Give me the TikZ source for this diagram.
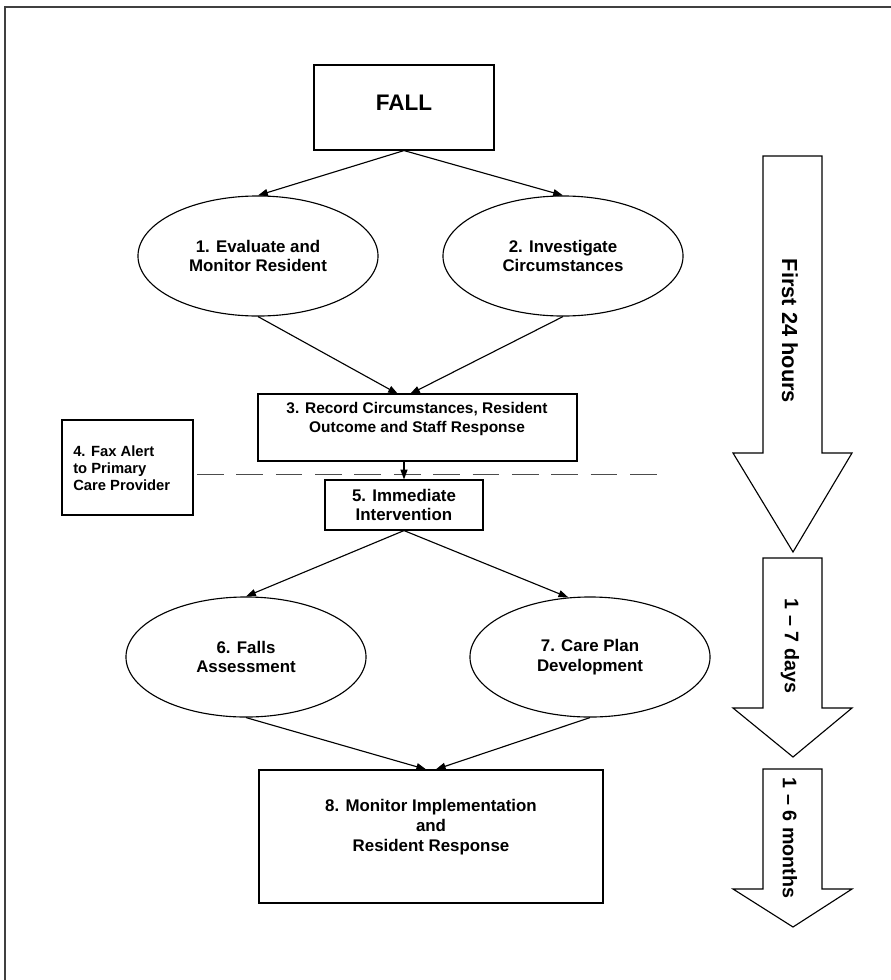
\documentclass[tikz,border=0pt]{standalone}
\usepackage{fontspec}
\setmainfont{Liberation Sans}
\usetikzlibrary{shapes.geometric,arrows.meta,positioning}
\tikzset{
  box/.style={draw, line width=0.8pt, inner sep=0pt},
  oval/.style={draw, ellipse, line width=0.8pt, inner sep=0pt, minimum width=6cm, minimum height=3cm, align=center, font=\bfseries\fontsize{12}{14}\selectfont},
  lbl/.style={align=center, inner sep=0pt, font=\bfseries\fontsize{11}{13}\selectfont},
  arr/.style={-{Triangle[length=7pt,width=5pt]}, line width=0.8pt},
  bigarrow/.style={draw, line width=0.8pt, fill=white},
  dashline/.style={line width=0.5pt, black!70, dash pattern=on 19pt off 9pt},
}
\begin{document}
\begin{tikzpicture}[x=0.025cm,y=-0.025cm]
    \useasboundingbox (0,0) rectangle (891,980);
    \fill[white] (0,0) rectangle (891,980);
    % page frame, top and left only
    \draw[line width=1.2pt, black!75] (891,7) -- (5,7) -- (5,980);

    % the fall and the first two steps
    \node[box, minimum width=4.5cm, minimum height=2.125cm] (fall) at (404,107.5) {};
    \node[lbl, font=\bfseries\fontsize{16}{18}\selectfont] (falltxt) at (404,103) {FALL};
    \node[oval] (eval) at (258,256) {1. Evaluate and\\Monitor Resident};
    \node[oval] (invest) at (563,256) {2. Investigate\\Circumstances};

    % record and fax alert
    \node[box, minimum width=7.975cm, minimum height=1.675cm] (record) at (417.5,427.5) {};
    \node[lbl] (recordtxt) at (417,419) {3. Record Circumstances, Resident\\Outcome and Staff Response};
    \coordinate (in3) at (404,394);
    \node[box, minimum width=3.275cm, minimum height=2.375cm] (fax) at (127.5,467.5) {};
    \node[lbl, align=left, anchor=west, font=\bfseries\fontsize{10.5}{12}\selectfont] (faxtxt) at (73,468) {4. Fax Alert\\to Primary\\Care Provider};
    \coordinate (dashL) at (197,474);
    \coordinate (dashR) at (660,474);
    \draw[dashline] (dashL) -- (dashR);

    % intervention and follow-up
    \node[box, minimum width=3.95cm, minimum height=1.25cm, align=center, font=\bfseries\fontsize{12}{14}\selectfont] (interv) at (404,505) {5. Immediate\\Intervention};
    \node[oval] (assess) at (246,657) {6. Falls\\Assessment};
    \node[oval] (care) at (590,657) {7. Care Plan\\Development};
    \node[box, minimum width=8.6cm, minimum height=3.325cm] (monitor) at (431,836.5) {};
    \node[lbl, font=\bfseries\fontsize{12}{14}\selectfont] (monitortxt) at (431,827) {8. Monitor Implementation\\and\\Resident Response};

    % connectors
    \draw[arr] (fall.south) -- (eval.north);
    \draw[arr] (fall.south) -- (invest.north);
    \draw[arr] (eval.south) -- ([xshift=-0.15cm]in3);
    \draw[arr] (invest.south) -- ([xshift=0.15cm]in3);
    \draw[arr] (record.south -| interv.north) -- (interv.north);
    \draw[arr] (interv.south) -- (assess.north);
    \draw[arr] (interv.south) -- (care.110);
    \draw[arr] (assess.south) -- ([xshift=-0.12cm]monitor.north);
    \draw[arr] (care.south) -- ([xshift=0.12cm]monitor.north);

    % time spans on the right
    \foreach \top/\base/\tip/\mid/\txt/\fs in {156/453/552/331/First 24 hours/15.5, 558/708/757/646/1 -- 7 days/14, 769/889/927/838/1 -- 6 months/14} {
        \draw[bigarrow] (763,\top) -- (822,\top) -- (822,\base) -- (852,\base) -- (793,\tip) -- (733,\base) -- (763,\base) -- cycle;
        \node[rotate=-90, font=\bfseries\fontsize{\fs}{16}\selectfont] (span\top) at (790,\mid) {\txt};
    }
\end{tikzpicture}
\end{document}
